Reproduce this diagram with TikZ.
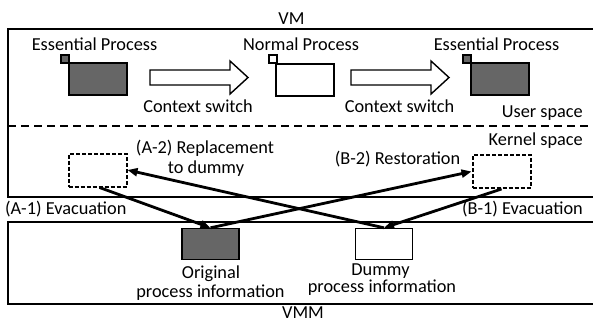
\documentclass[tikz,border=0pt]{standalone}
\usepackage{fontspec}
\setmainfont{Carlito}
\usetikzlibrary{arrows.meta}
\begin{document}
\begin{tikzpicture}[x=1pt,y=-1pt,
  lbl/.style={font=\fontsize{18.3}{20}\selectfont, inner sep=0pt},
  frame/.style={line width=1.4pt},
  proc/.style={draw, line width=1.4pt, minimum width=58pt, minimum height=32pt, inner sep=0pt},
  tab/.style={draw, line width=1.2pt, minimum size=8pt, inner sep=0pt},
  slot/.style={draw, line width=2pt, dash pattern=on 4pt off 2pt, minimum width=58pt, minimum height=33pt, inner sep=0pt},
  info/.style={draw, line width=1.4pt, minimum width=57pt, minimum height=31pt, inner sep=0pt},
  moveto/.style={line width=2.8pt, -{Triangle[length=10pt,width=8pt]}},
  blockarrow/.style={line width=1.4pt, fill=white}
]
\useasboundingbox (0,0) rectangle (593,322);

% VM and VMM frames (open on the right)
\draw[frame] (593,29) -- (8,29) -- (8,197) -- (593,197);
\draw[frame] (593,222) -- (8,222) -- (8,304) -- (593,304);
\node[lbl, anchor=base] (vm) at (291.5,24) {VM};
\node[lbl, anchor=base] (vmm) at (303,318) {VMM};

% user / kernel boundary
\draw[line width=2.5pt, dash pattern=on 8pt off 5pt] (8,126) -- (593,126);
\node[lbl, anchor=base east] (user) at (583,117) {User space};
\node[lbl, anchor=base east] (kernel) at (583,145) {Kernel space};

% processes in user space
\node[proc, fill=black!60] (p1) at (98,79) {};
\node[tab, fill=black!60] (t1) at (65,59) {};
\node[lbl, anchor=base] (l1) at (94.5,50) {Essential Process};

\node[proc, fill=white] (p2) at (305,80) {};
\node[tab, fill=white] (t2) at (273,59) {};
\node[lbl, anchor=base] (l2) at (301,50) {Normal Process};

\node[proc, fill=black!60] (p3) at (500,79) {};
\node[tab, fill=black!60] (t3) at (467,59) {};
\node[lbl, anchor=base] (l3) at (496.5,50) {Essential Process};

% context switch arrows
\draw[blockarrow] (150,70) -- (230,70) -- (230,61) -- (248,77.5) -- (230,94) -- (230,85) -- (150,85) -- cycle;
\draw[blockarrow] (351,70) -- (431,70) -- (431,61) -- (449,77.5) -- (431,94) -- (431,85) -- (351,85) -- cycle;
\node[lbl, anchor=base] (cs1) at (198,112) {Context switch};
\node[lbl, anchor=base] (cs2) at (399.5,112) {Context switch};

% kernel-side process slots
\node[slot] (sa) at (97.5,170) {};
\node[slot] (sb) at (501.5,171.5) {};
\node[lbl, anchor=base] (a2) at (205,153) {(A-2) Replacement};
\node[lbl, anchor=base] (a2b) at (206,173) {to dummy};
\node[lbl, anchor=base] (b2) at (397.5,164) {(B-2) Restoration};
\node[lbl, anchor=base west] (a1) at (5,214) {(A-1) Evacuation};
\node[lbl, anchor=base east] (b1) at (583,214) {(B-1) Evacuation};

% process information held by the VMM
\node[info, fill=black!60] (orig) at (210.5,244) {};
\node[info, fill=white] (dummy) at (384,244) {};
\node[lbl, anchor=base] (o1) at (211,278) {Original};
\node[lbl, anchor=base] (o2) at (210.5,297) {process information};
\node[lbl, anchor=base] (d1) at (380.5,275) {Dummy};
\node[lbl, anchor=base] (d2) at (382,292) {process information};

% moves between kernel and VMM
\draw[moveto] ([xshift=2pt]sa.south) -- (orig.north);
\draw[moveto] (orig.north) -- (sb.west);
\draw[moveto] (dummy.north) -- (sa.east);
\draw[moveto] (sb.south) -- (dummy.north);
\end{tikzpicture}
\end{document}
